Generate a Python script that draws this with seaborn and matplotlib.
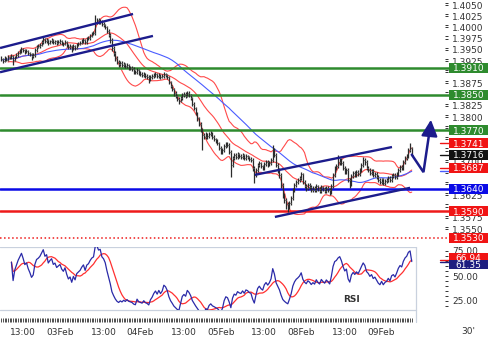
import numpy as np
import pandas as pd
import matplotlib
matplotlib.use("Agg")
import matplotlib.pyplot as plt
from matplotlib.lines import Line2D
from matplotlib.patches import Rectangle
from matplotlib.transforms import blended_transform_factory
import seaborn as sns

sns.set_theme(style="white")
plt.rcParams["font.family"] = ["DejaVu Sans"]

# ---------------- data (EUR/USD, 30-minute bars) ----------------
close = [
    1.3929, 1.3925, 1.3932, 1.3927, 1.3934, 1.3932, 1.3936, 1.3927, 1.3934, 1.3938, 1.3943, 1.3947,
    1.3952, 1.3949, 1.3945, 1.3947, 1.3943, 1.3940, 1.3936, 1.3938, 1.3949, 1.3956, 1.3958, 1.3961,
    1.3967, 1.3974, 1.3969, 1.3972, 1.3965, 1.3969, 1.3972, 1.3967, 1.3969, 1.3965, 1.3967, 1.3969,
    1.3965, 1.3963, 1.3967, 1.3961, 1.3956, 1.3958, 1.3952, 1.3958, 1.3954, 1.3961, 1.3963, 1.3965,
    1.3969, 1.3972, 1.3967, 1.3974, 1.3976, 1.3981, 1.3985, 1.3987, 1.4012, 1.4016, 1.4012, 1.4014,
    1.4007, 1.4005, 1.4001, 1.3992, 1.3983, 1.3972, 1.3954, 1.3943, 1.3932, 1.3923, 1.3918, 1.3920,
    1.3916, 1.3918, 1.3914, 1.3916, 1.3911, 1.3909, 1.3907, 1.3902, 1.3900, 1.3905, 1.3898, 1.3896,
    1.3894, 1.3896, 1.3891, 1.3889, 1.3885, 1.3889, 1.3891, 1.3894, 1.3896, 1.3891, 1.3894, 1.3889,
    1.3891, 1.3896, 1.3894, 1.3889, 1.3878, 1.3869, 1.3862, 1.3853, 1.3847, 1.3840, 1.3836, 1.3842,
    1.3849, 1.3851, 1.3847, 1.3853, 1.3849, 1.3842, 1.3829, 1.3820, 1.3809, 1.3798, 1.3784, 1.3773,
    1.3760, 1.3755, 1.3762, 1.3757, 1.3762, 1.3764, 1.3755, 1.3751, 1.3746, 1.3742, 1.3731, 1.3722,
    1.3726, 1.3735, 1.3740, 1.3737, 1.3722, 1.3693, 1.3708, 1.3715, 1.3711, 1.3717, 1.3713, 1.3711,
    1.3715, 1.3708, 1.3713, 1.3711, 1.3706, 1.3704, 1.3686, 1.3670, 1.3682, 1.3693, 1.3697, 1.3690,
    1.3686, 1.3695, 1.3699, 1.3693, 1.3697, 1.3704, 1.3726, 1.3715, 1.3693, 1.3682, 1.3670, 1.3648,
    1.3626, 1.3615, 1.3606, 1.3599, 1.3608, 1.3619, 1.3637, 1.3648, 1.3655, 1.3659, 1.3664, 1.3673,
    1.3655, 1.3646, 1.3641, 1.3648, 1.3644, 1.3637, 1.3641, 1.3637, 1.3646, 1.3639, 1.3635, 1.3644,
    1.3639, 1.3635, 1.3641, 1.3637, 1.3632, 1.3646, 1.3670, 1.3686, 1.3690, 1.3699, 1.3704, 1.3697,
    1.3686, 1.3677, 1.3682, 1.3659, 1.3650, 1.3668, 1.3675, 1.3670, 1.3677, 1.3673, 1.3682, 1.3693,
    1.3704, 1.3699, 1.3686, 1.3682, 1.3675, 1.3679, 1.3670, 1.3673, 1.3666, 1.3659, 1.3655, 1.3661,
    1.3653, 1.3657, 1.3659, 1.3664, 1.3659, 1.3668, 1.3670, 1.3666, 1.3673, 1.3682, 1.3688, 1.3686,
    1.3699, 1.3708, 1.3713, 1.3726, 1.3731, 1.3716,
]
high = [
    1.3936, 1.3932, 1.3936, 1.3935, 1.3938, 1.3937, 1.3940, 1.3939, 1.3937, 1.3942, 1.3947, 1.3952,
    1.3956, 1.3955, 1.3952, 1.3951, 1.3950, 1.3946, 1.3943, 1.3942, 1.3953, 1.3960, 1.3963, 1.3966,
    1.3971, 1.3981, 1.3977, 1.3976, 1.3975, 1.3973, 1.3976, 1.3975, 1.3973, 1.3972, 1.3971, 1.3974,
    1.3972, 1.3968, 1.3971, 1.3969, 1.3964, 1.3962, 1.3961, 1.3962, 1.3961, 1.3965, 1.3967, 1.3969,
    1.3974, 1.3976, 1.3975, 1.3978, 1.3980, 1.3986, 1.3990, 1.3993, 1.4027, 1.4022, 1.4020, 1.4019,
    1.4017, 1.4011, 1.4008, 1.4004, 1.3996, 1.3987, 1.3976, 1.3958, 1.3947, 1.3936, 1.3927, 1.3925,
    1.3924, 1.3922, 1.3921, 1.3920, 1.3919, 1.3915, 1.3913, 1.3911, 1.3906, 1.3909, 1.3908, 1.3902,
    1.3900, 1.3900, 1.3899, 1.3895, 1.3893, 1.3894, 1.3896, 1.3898, 1.3900, 1.3899, 1.3898, 1.3897,
    1.3896, 1.3900, 1.3899, 1.3897, 1.3892, 1.3881, 1.3872, 1.3865, 1.3857, 1.3850, 1.3844, 1.3846,
    1.3853, 1.3856, 1.3855, 1.3858, 1.3857, 1.3852, 1.3845, 1.3833, 1.3823, 1.3812, 1.3801, 1.3788,
    1.3776, 1.3764, 1.3766, 1.3765, 1.3766, 1.3768, 1.3767, 1.3759, 1.3754, 1.3750, 1.3745, 1.3735,
    1.3730, 1.3739, 1.3745, 1.3744, 1.3741, 1.3726, 1.3713, 1.3719, 1.3719, 1.3721, 1.3720, 1.3717,
    1.3719, 1.3718, 1.3717, 1.3716, 1.3714, 1.3710, 1.3708, 1.3690, 1.3686, 1.3697, 1.3702, 1.3700,
    1.3694, 1.3699, 1.3704, 1.3703, 1.3702, 1.3709, 1.3737, 1.3730, 1.3719, 1.3698, 1.3686, 1.3674,
    1.3652, 1.3630, 1.3619, 1.3610, 1.3612, 1.3623, 1.3641, 1.3653, 1.3660, 1.3664, 1.3669, 1.3678,
    1.3676, 1.3659, 1.3650, 1.3652, 1.3652, 1.3648, 1.3646, 1.3645, 1.3650, 1.3649, 1.3643, 1.3648,
    1.3647, 1.3643, 1.3645, 1.3645, 1.3641, 1.3650, 1.3674, 1.3691, 1.3696, 1.3715, 1.3709, 1.3708,
    1.3701, 1.3690, 1.3686, 1.3686, 1.3663, 1.3672, 1.3679, 1.3679, 1.3681, 1.3681, 1.3686, 1.3698,
    1.3711, 1.3708, 1.3703, 1.3690, 1.3686, 1.3683, 1.3683, 1.3677, 1.3677, 1.3670, 1.3663, 1.3665,
    1.3665, 1.3661, 1.3663, 1.3668, 1.3668, 1.3672, 1.3674, 1.3674, 1.3677, 1.3686, 1.3693, 1.3692,
    1.3703, 1.3713, 1.3718, 1.3731, 1.3741, 1.3733,
]
low = [
    1.3925, 1.3921, 1.3922, 1.3924, 1.3925, 1.3929, 1.3930, 1.3916, 1.3924, 1.3931, 1.3935, 1.3941,
    1.3944, 1.3946, 1.3941, 1.3942, 1.3939, 1.3936, 1.3927, 1.3932, 1.3935, 1.3946, 1.3953, 1.3955,
    1.3958, 1.3964, 1.3965, 1.3966, 1.3961, 1.3962, 1.3966, 1.3963, 1.3964, 1.3961, 1.3962, 1.3964,
    1.3961, 1.3959, 1.3960, 1.3957, 1.3952, 1.3951, 1.3945, 1.3949, 1.3950, 1.3951, 1.3958, 1.3960,
    1.3962, 1.3966, 1.3963, 1.3964, 1.3971, 1.3973, 1.3978, 1.3982, 1.3984, 1.4007, 1.4008, 1.4008,
    1.4003, 1.4000, 1.3996, 1.3987, 1.3978, 1.3966, 1.3947, 1.3936, 1.3926, 1.3918, 1.3912, 1.3914,
    1.3911, 1.3912, 1.3909, 1.3910, 1.3906, 1.3904, 1.3902, 1.3897, 1.3895, 1.3896, 1.3893, 1.3891,
    1.3889, 1.3890, 1.3886, 1.3884, 1.3876, 1.3881, 1.3885, 1.3888, 1.3890, 1.3887, 1.3888, 1.3885,
    1.3886, 1.3888, 1.3889, 1.3884, 1.3873, 1.3864, 1.3857, 1.3848, 1.3842, 1.3835, 1.3830, 1.3833,
    1.3839, 1.3845, 1.3843, 1.3844, 1.3845, 1.3838, 1.3824, 1.3815, 1.3804, 1.3792, 1.3779, 1.3766,
    1.3726, 1.3750, 1.3751, 1.3752, 1.3754, 1.3758, 1.3751, 1.3746, 1.3741, 1.3737, 1.3726, 1.3717,
    1.3718, 1.3722, 1.3731, 1.3732, 1.3717, 1.3666, 1.3688, 1.3704, 1.3706, 1.3707, 1.3709, 1.3706,
    1.3707, 1.3703, 1.3704, 1.3706, 1.3701, 1.3699, 1.3680, 1.3653, 1.3666, 1.3678, 1.3689, 1.3686,
    1.3681, 1.3682, 1.3691, 1.3689, 1.3690, 1.3693, 1.3700, 1.3710, 1.3688, 1.3676, 1.3664, 1.3642,
    1.3620, 1.3608, 1.3595, 1.3589, 1.3594, 1.3604, 1.3615, 1.3633, 1.3644, 1.3651, 1.3655, 1.3660,
    1.3651, 1.3641, 1.3636, 1.3637, 1.3640, 1.3632, 1.3633, 1.3632, 1.3633, 1.3635, 1.3630, 1.3631,
    1.3635, 1.3630, 1.3631, 1.3633, 1.3627, 1.3629, 1.3642, 1.3666, 1.3682, 1.3686, 1.3694, 1.3692,
    1.3681, 1.3672, 1.3673, 1.3654, 1.3641, 1.3646, 1.3664, 1.3666, 1.3666, 1.3669, 1.3669, 1.3678,
    1.3689, 1.3694, 1.3681, 1.3677, 1.3670, 1.3671, 1.3666, 1.3666, 1.3661, 1.3655, 1.3650, 1.3651,
    1.3648, 1.3649, 1.3653, 1.3655, 1.3655, 1.3655, 1.3664, 1.3662, 1.3662, 1.3669, 1.3678, 1.3681,
    1.3682, 1.3695, 1.3703, 1.3709, 1.3722, 1.3712,
]

# support / resistance levels
levels = [1.3910, 1.3850, 1.3770, 1.3640, 1.3590, 1.3530]
level_colors = ["#2e8b2e", "#2e8b2e", "#2e8b2e", "#0a0ae6", "#ee1a1a", "#ee1a1a"]
level_styles = ["-", "-", "-", "-", "-", ":"]

# right-hand value labels
price_labels = ["1.3910", "1.3850", "1.3770", "1.3741", "1.3716", "1.3687", "1.3640", "1.3590", "1.3530"]
price_label_colors = ["#2e8b2e", "#2e8b2e", "#2e8b2e", "#f01414", "#111111", "#f01414",
                      "#0a0ae6", "#f01414", "#f01414"]
rsi_labels = ["66.94", "61.35"]
rsi_label_colors = ["#f01414", "#1e1e80"]

# hand-drawn trend channels (bar index, price)
trend_x0 = [-0.8, -0.8, 151.4, 163.3]
trend_p0 = [1.3954, 1.3900, 1.3671, 1.3577]
trend_x1 = [78.6, 90.5, 233.2, 244.0]
trend_p1 = [1.4030, 1.3981, 1.3733, 1.3642]

price_ticks = [1.3550, 1.3575, 1.3600, 1.3625, 1.3650, 1.3675, 1.3700, 1.3725, 1.3750, 1.3775,
               1.3800, 1.3825, 1.3850, 1.3875, 1.3900, 1.3925, 1.3950, 1.3975, 1.4000, 1.4025, 1.4050]
rsi_ticks = [25, 50, 75]

# ---------------- time axis ----------------
times = pd.date_range("2010-02-02 06:30", "2010-02-09 09:00", freq="30min")
times = times[times.dayofweek < 5]
n = len(close)
idx = np.arange(n)
tick_pos, tick_lab = [], []
for i, t in enumerate(times[:n]):
    if t.hour == 13 and t.minute == 0:
        tick_pos.append(i); tick_lab.append("13:00")
    elif t.hour == 0 and t.minute == 0:
        tick_pos.append(i); tick_lab.append(t.strftime("%d%b"))

# ---------------- indicators ----------------
s = pd.Series(close)
mid = s.rolling(20, min_periods=5).mean()
sd = s.rolling(20, min_periods=5).std(ddof=0)
bb_up = mid + 2 * sd
bb_dn = mid - 2 * sd
ma50 = s.rolling(50, min_periods=1).mean()
delta = s.diff()
gain = delta.clip(lower=0).ewm(alpha=1 / 14, adjust=True, min_periods=6).mean()
loss = (-delta).clip(lower=0).ewm(alpha=1 / 14, adjust=True, min_periods=6).mean()
rsi = 100 - 100 / (1 + gain / loss)
rsi_ma = rsi.rolling(9, min_periods=1).mean()

# ---------------- figure ----------------
W, H = 500, 339
fig = plt.figure(figsize=(5, 3.39), dpi=100)
fig.patch.set_facecolor("white")
AX_W = 445
axm = fig.add_axes([0, 92 / H, AX_W / W, 247 / H])
axr = fig.add_axes([0, 29 / H, AX_W / W, 63 / H])

px2bar = lambda px: (px - 1.375) / 1.675
xlim = (px2bar(0), px2bar(AX_W))
for a in (axm, axr):
    a.set_xlim(*xlim)
    a.set_facecolor("white")
    for sp in a.spines.values():
        sp.set_visible(False)
axm.set_ylim(1.35099, 1.40612)
axr.set_ylim(16, 79)

# bollinger bands & moving average
band_kw = dict(ax=axm, legend=False, linewidth=0.8)
sns.lineplot(x=idx, y=bb_up, color="#ff4a4a", **band_kw)
sns.lineplot(x=idx, y=mid, color="#ff4a4a", **band_kw)
sns.lineplot(x=idx, y=bb_dn, color="#ff4a4a", **band_kw)
sns.lineplot(x=idx, y=ma50, color="#4a5cff", **band_kw)

# OHLC bars
opens = [close[0]] + close[:-1]
axm.vlines(idx, low, high, color="#2b2b2b", linewidth=0.9, zorder=3)
axm.hlines(close, idx, idx + 0.5, color="#2b2b2b", linewidth=0.7, zorder=3)
axm.hlines(opens, idx - 0.5, idx, color="#777777", linewidth=0.7, zorder=3)

# horizontal levels
ext = 449 / AX_W
for lv, c, ls in zip(levels, level_colors, level_styles):
    axm.axhline(lv, xmin=0, xmax=ext, color=c, linewidth=1.8 if ls == "-" else 1.1,
                linestyle=ls, clip_on=False, zorder=2)

# trend channels
for x0, p0, x1, p1 in zip(trend_x0, trend_p0, trend_x1, trend_p1):
    axm.plot([x0, x1], [p0, p1], color="#1c1c8c", linewidth=1.7, solid_capstyle="butt", zorder=4)

# projection arrow from last bar
lx, lp = idx[-1], close[-1]
axm.plot([lx, lx + 7.0, lx + 11.0], [lp, lp - 0.0039, lp + 0.0062], color="#1c1c8c",
         linewidth=1.8, clip_on=False, zorder=4, solid_joinstyle="miter")
axm.annotate("", xy=(lx + 11.6, lp + 0.0084), xytext=(lx + 11.0, lp + 0.0060),
             arrowprops=dict(arrowstyle="-|>,head_length=0.9,head_width=0.45", color="#1c1c8c",
                             lw=1.6, mutation_scale=11), annotation_clip=False, zorder=5)

# price axis ticks (labels hidden where a value box sits on top of them)
box_vals = [float(l) for l in price_labels]
shown = [t for t in price_ticks if min(abs(t - b) for b in box_vals) > 0.00125]
axm.yaxis.tick_right()
axm.set_yticks(price_ticks)
axm.set_yticklabels([f"{t:.4f}" if t in shown else "" for t in price_ticks])
axm.set_yticks([t + 0.0005 for t in price_ticks], minor=True)
axm.tick_params(axis="y", which="major", right=True, left=False, direction="out", length=2.5,
                width=0.7, pad=2.6, labelsize=6.5, colors="#333333")
axm.tick_params(axis="y", which="minor", right=True, left=False, direction="out", length=2.0,
                width=0.7, colors="#333333")
axm.set_xticks([])

# label boxes
trm = blended_transform_factory(axm.transAxes, axm.transData)
bh = 0.00223
for lab, c in zip(price_labels, price_label_colors):
    v = float(lab)
    axm.add_patch(Rectangle((449 / AX_W, v - bh / 2), 39 / AX_W, bh, transform=trm,
                            facecolor=c, edgecolor="none", clip_on=False, zorder=6))
    axm.text(468.5 / AX_W, v, lab, transform=trm, ha="center", va="center_baseline",
             color="white", fontsize=6.5, zorder=7, clip_on=False)
stub_vals = [float(price_labels[3]), float(price_labels[4]), float(price_labels[5]), ma50.iloc[-1]]
stub_cols = ["#f01414", "#111111", "#f01414", "#4a5cff"]
for v, c in zip(stub_vals, stub_cols):
    axm.plot([440 / AX_W, 449 / AX_W], [v, v], transform=trm, color=c, linewidth=1.0,
             clip_on=False, zorder=5)

# ---------------- RSI panel ----------------
sns.lineplot(x=idx, y=rsi_ma, ax=axr, color="#ff3030", linewidth=0.9, legend=False)
sns.lineplot(x=idx, y=rsi, ax=axr, color="#2a2aa8", linewidth=0.9, legend=False)
axr.set_ylabel(""); axm.set_ylabel("")
axr.yaxis.tick_right()
axr.set_yticks(rsi_ticks)
axr.set_yticklabels([f"{t:.2f}" for t in rsi_ticks])
axr.set_yticks([v for v in range(20, 80, 5) if v not in rsi_ticks], minor=True)
axr.tick_params(axis="y", which="major", right=True, left=False, direction="out", length=2.5,
                width=0.7, pad=2.6, labelsize=6.5, colors="#333333")
axr.tick_params(axis="y", which="minor", right=True, left=False, direction="out", length=2.0,
                width=0.7, colors="#333333")

trr = blended_transform_factory(axr.transAxes, axr.transData)
rv_blue = float(rsi_labels[1])
rv_red = max(float(rsi_labels[0]), rv_blue + 7.6)
for lab, c, v in [(rsi_labels[0], rsi_label_colors[0], rv_red), (rsi_labels[1], rsi_label_colors[1], rv_blue)]:
    axr.add_patch(Rectangle((449 / AX_W, v - 4.3), 39 / AX_W, 8.6, transform=trr,
                            facecolor=c, edgecolor="none", clip_on=False, zorder=6))
    axr.text(468.5 / AX_W, v, lab, transform=trr, ha="center", va="center_baseline",
             color="white", fontsize=6.5, zorder=7, clip_on=False)
axr.plot([440 / AX_W, 449 / AX_W], [rsi_ma.iloc[-1], rsi_ma.iloc[-1]], transform=trr,
         color="#f01414", linewidth=1.0, clip_on=False)
axr.plot([440 / AX_W, 449 / AX_W], [rsi.iloc[-1], rsi.iloc[-1]], transform=trr,
         color="#1e1e80", linewidth=1.0, clip_on=False)

axr.text(351 / AX_W, 0.16, "RSI", transform=axr.transAxes, ha="center", va="center",
         fontsize=6.5, fontweight="bold", color="#333333")

# x axis (time)
axr.spines["bottom"].set_position(("outward", 6))
axr.set_xticks(tick_pos)
axr.set_xticklabels(tick_lab)
axr.set_xticks(idx, minor=True)
axr.tick_params(axis="x", which="both", bottom=True, top=False, direction="out", length=3,
                width=0.6, colors="#333333", labelsize=6.5, pad=4)

# panel frame lines (light)
frame_c = "#c9d1de"
x416 = px2bar(416)
axr.axhline(79, xmin=0, xmax=(x416 - xlim[0]) / (xlim[1] - xlim[0]), color=frame_c, lw=0.9, zorder=1)
axr.axhline(16, xmin=0, xmax=(x416 - xlim[0]) / (xlim[1] - xlim[0]), color=frame_c, lw=0.9,
            clip_on=False, zorder=1)
fig.add_artist(Line2D([416 / W, 416 / W], [1 - 322 / H, 1 - 247 / H], color=frame_c, lw=0.9))

fig.text(468 / W, 1 - 331 / H, "30'", ha="center", va="center", fontsize=6.5, color="#333333")

fig.savefig("out.png", dpi=100, facecolor="white")
